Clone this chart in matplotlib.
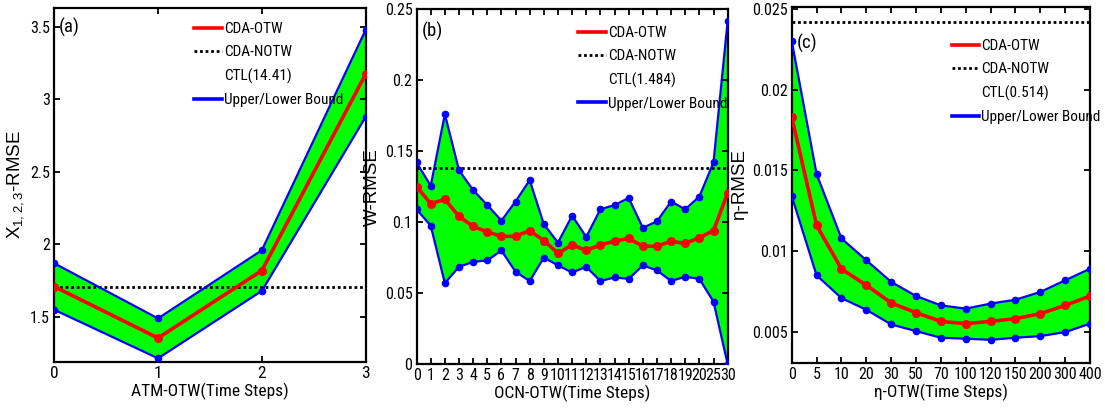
import matplotlib
matplotlib.use("Agg")
import matplotlib.pyplot as plt
from matplotlib.lines import Line2D

plt.rcParams['font.family'] = ['Roboto Condensed', 'Archivo Narrow', 'Liberation Sans', 'DejaVu Sans']
plt.rcParams['mathtext.default'] = 'regular'

# panel (a)
a_labels = ['0', '1', '2', '3']
a_mean = [1.71, 1.355, 1.82, 3.175]
a_upper = [1.87, 1.49, 1.96, 3.48]
a_lower = [1.55, 1.215, 1.68, 2.88]
a_notw = 1.71
a_ctl = 'CTL(14.41)'

# panel (b)
b_labels = [str(i) for i in range(21)] + ['25', '30']
b_mean = [0.125, 0.113, 0.116, 0.104, 0.097, 0.093, 0.090, 0.090, 0.094, 0.087,
          0.078, 0.084, 0.080, 0.084, 0.0865, 0.0885, 0.083, 0.083, 0.0865, 0.085,
          0.089, 0.094, 0.1205]
b_upper = [0.142, 0.1255, 0.176, 0.1365, 0.1225, 0.112, 0.101, 0.1145, 0.1295, 0.0985,
           0.0855, 0.1045, 0.0895, 0.109, 0.112, 0.117, 0.096, 0.1005, 0.1145, 0.109,
           0.118, 0.142, 0.2415]
b_lower = [0.109, 0.0975, 0.057, 0.0685, 0.072, 0.073, 0.080, 0.065, 0.0585, 0.075,
           0.0695, 0.0645, 0.0685, 0.0585, 0.061, 0.060, 0.0695, 0.066, 0.0585, 0.0615,
           0.060, 0.044, 0.0]
b_notw = 0.1378
b_ctl = 'CTL(1.484)'

# panel (c)
c_labels = ['0', '5', '10', '20', '30', '50', '70', '100', '120', '150', '200', '300', '400']
c_mean = [0.0183, 0.0116, 0.0089, 0.0079, 0.0068, 0.0062, 0.00566, 0.00552, 0.00566,
          0.00583, 0.00614, 0.00665, 0.00723]
c_upper = [0.0230, 0.01477, 0.01079, 0.00944, 0.0081, 0.00723, 0.00665, 0.00645, 0.00676,
           0.0070, 0.00748, 0.0082, 0.00892]
c_lower = [0.01341, 0.00851, 0.0071, 0.00638, 0.00547, 0.00506, 0.00465, 0.00459, 0.00452,
           0.00465, 0.00475, 0.0050, 0.00552]
c_notw = 0.02417
c_ctl = 'CTL(0.514)'

fig = plt.figure(figsize=(11.05, 4.17), dpi=100)
ax_a = fig.add_axes([0.049, 0.132, 0.282, 0.849])
ax_b = fig.add_axes([0.377, 0.127, 0.2815, 0.851])
ax_c = fig.add_axes([0.7165, 0.130, 0.270, 0.853])


def panel(ax, labels, mean, upper, lower, notw, ctl, tag, tag_y, xlabel, ylabel,
          ylim, yticks, leg_anchor, xsize=11.5):
    x = list(range(len(labels)))
    ax.fill_between(x, lower, upper, color='#00ff00', lw=0, zorder=1)
    ax.plot(x, upper, color='#0000ff', lw=1.6, marker='o', ms=4.5, zorder=3)
    ax.plot(x, lower, color='#0000ff', lw=1.6, marker='o', ms=4.5, zorder=3)
    ax.plot(x, mean, color='#ff0000', lw=2.6, marker='o', ms=5.5, zorder=4)
    ax.axhline(notw, color='black', ls=(0, (1, 1)), lw=2, zorder=2)
    ax.set_xlim(x[0], x[-1])
    ax.set_ylim(*ylim)
    ax.set_xticks(x)
    ax.set_xticklabels(labels, fontsize=xsize)
    ax.set_yticks(yticks)
    ax.set_yticklabels(['%g' % v for v in yticks], fontsize=11.5)
    ax.tick_params(direction='in', top=True, right=True, width=1.3, length=4, pad=3)
    for s in ax.spines.values():
        s.set_linewidth(1.6)
    ax.set_xlabel(xlabel, fontsize=12.5, labelpad=1)
    ax.set_ylabel(ylabel, fontsize=13.5, family=['Liberation Sans', 'DejaVu Sans'], labelpad=3)
    ax.text(0.016, tag_y, tag, transform=ax.transAxes, fontsize=13.5, va='center', ha='left')
    handles = [Line2D([], [], color='#ff0000', lw=2.6),
               Line2D([], [], color='black', ls=(0, (1, 1)), lw=2),
               Line2D([], [], color='none'),
               Line2D([], [], color='#0000ff', lw=2.6)]
    ax.legend(handles, ['CDA-OTW', 'CDA-NOTW', ctl, 'Upper/Lower Bound'], frameon=False,
              loc='upper left', bbox_to_anchor=leg_anchor, fontsize=11,
              handlelength=1.8, handletextpad=0.15, labelspacing=0.6,
              borderaxespad=0, borderpad=0)


panel(ax_a, a_labels, a_mean, a_upper, a_lower, a_notw, a_ctl, '(a)', 0.946,
      'ATM-OTW(Time Steps)', r'X$_{1,2,3}$-RMSE', (1.19, 3.63), [1.5, 2, 2.5, 3, 3.5],
      (0.45, 0.96), xsize=12.5)
panel(ax_b, b_labels, b_mean, b_upper, b_lower, b_notw, b_ctl, '(b)', 0.936,
      'OCN-OTW(Time Steps)', 'W-RMSE', (0, 0.25), [0, 0.05, 0.1, 0.15, 0.2, 0.25],
      (0.52, 0.953))
panel(ax_c, c_labels, c_mean, c_upper, c_lower, c_notw, c_ctl, '(c)', 0.899,
      'η-OTW(Time Steps)', 'η-RMSE', (0.0031, 0.0251), [0.005, 0.01, 0.015, 0.02, 0.025],
      (0.536, 0.91))

fig.savefig('out.png', dpi=100)
